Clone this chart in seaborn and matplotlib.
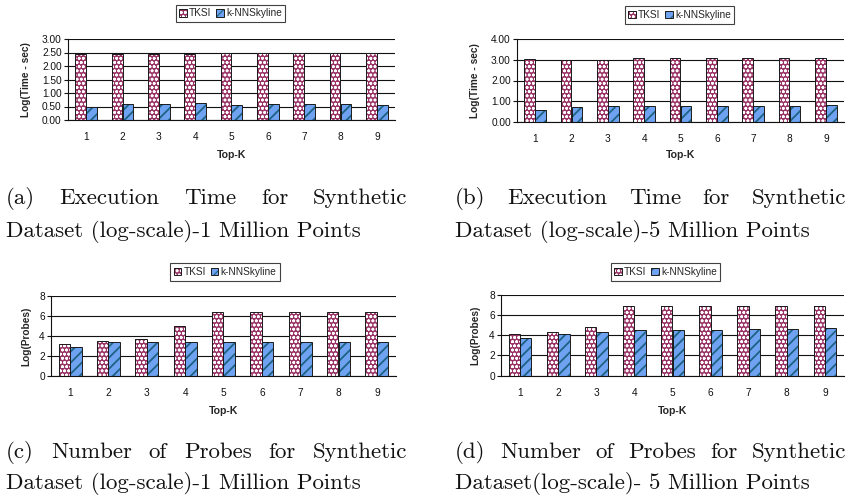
import matplotlib
matplotlib.use("Agg")
import matplotlib.pyplot as plt
import matplotlib.ticker as mticker
from matplotlib.patches import Patch, Rectangle
from matplotlib.legend_handler import HandlerTuple
import pandas as pd
import seaborn as sns

# ---- data -------------------------------------------------------------
top_k = [1, 2, 3, 4, 5, 6, 7, 8, 9]
methods = ["TKSI", "k-NNSkyline"]

time_1m_tksi = [2.44, 2.44, 2.44, 2.44, 2.50, 2.50, 2.50, 2.50, 2.50]
time_1m_knn = [0.49, 0.60, 0.60, 0.64, 0.55, 0.60, 0.60, 0.60, 0.55]

time_5m_tksi = [3.05, 2.99, 2.99, 3.08, 3.08, 3.08, 3.08, 3.08, 3.08]
time_5m_knn = [0.60, 0.70, 0.78, 0.78, 0.75, 0.78, 0.78, 0.78, 0.84]

probes_1m_tksi = [3.25, 3.54, 3.70, 5.00, 6.40, 6.40, 6.40, 6.40, 6.40]
probes_1m_knn = [2.92, 3.40, 3.40, 3.40, 3.40, 3.40, 3.40, 3.40, 3.40]

probes_5m_tksi = [4.13, 4.36, 4.85, 6.93, 6.93, 6.93, 6.93, 6.93, 6.93]
probes_5m_knn = [3.73, 4.16, 4.36, 4.55, 4.55, 4.55, 4.65, 4.65, 4.75]

ylabel_time = "Log(Time - sec)"
ylabel_probes = "Log(Probes)"
xlabel = "Top-K"

caption_a = (["(a)", "Execution", "Time", "for", "Synthetic"],
             "Dataset (log-scale)-1 Million Points")
caption_b = (["(b)", "Execution", "Time", "for", "Synthetic"],
             "Dataset (log-scale)-5 Million Points")
caption_c = (["(c)", "Number", "of", "Probes", "for", "Synthetic"],
             "Dataset (log-scale)-1 Million Points")
caption_d = (["(d)", "Number", "of", "Probes", "for", "Synthetic"],
             "Dataset(log-scale)- 5 Million Points")

# ---- style ------------------------------------------------------------
sns.set_style("white")
plt.rcParams["font.family"] = ["Liberation Sans", "DejaVu Sans"]
plt.rcParams["hatch.linewidth"] = 0.8

TKSI_FILL, TKSI_DOTS = "#993366", "#ffffff"
KNN_FILL, KNN_STRIPES = "#6fa3f2", "#1d6282"
STYLES = {
    "TKSI": dict(fill=TKSI_FILL, hatch_color=TKSI_DOTS, hatch="oooo", hlw=0.8),
    "k-NNSkyline": dict(fill=KNN_FILL, hatch_color=KNN_STRIPES, hatch="///", hlw=1.3),
}

W_PX, H_PX = 861, 496
fig = plt.figure(figsize=(W_PX / 100, H_PX / 100), dpi=100)
fig.patch.set_facecolor("white")


def fig_rect(left, top, right, bottom):
    """Axes rectangle from pixel edges (origin at the top-left)."""
    return [left / W_PX, 1 - bottom / H_PX, (right - left) / W_PX, (bottom - top) / H_PX]


def style_bars(ax):
    for container, name in zip(ax.containers, methods):
        st = STYLES[name]
        for bar in container:
            bar.set_facecolor(st["fill"])
            bar.set_hatch(st["hatch"])
            bar.set_edgecolor(st["hatch_color"])
            bar.set_linewidth(0)
            if hasattr(bar, "set_hatch_linewidth"):
                bar.set_hatch_linewidth(st["hlw"])
            bar.set_zorder(2)
            ax.add_patch(Rectangle((bar.get_x(), bar.get_y()), bar.get_width(),
                                   bar.get_height(), fill=False, edgecolor="#1a1a1a",
                                   linewidth=0.7, zorder=3))


def legend_handles():
    handles = []
    for name in methods:
        st = STYLES[name]
        body = Patch(facecolor=st["fill"], edgecolor=st["hatch_color"],
                     hatch=st["hatch"], linewidth=0)
        frame = Patch(facecolor="none", edgecolor="#1a1a1a", linewidth=0.7)
        handles.append((body, frame))
    return handles


def draw_panel(rect, tksi, knn, ymax, ystep, fmt, ylabel, ylab_x, xlab_y, legend_xy):
    ax = fig.add_axes(fig_rect(*rect))
    df = pd.DataFrame({
        "Top-K": top_k * 2,
        "value": tksi + knn,
        "method": [methods[0]] * len(top_k) + [methods[1]] * len(top_k),
    })
    sns.barplot(data=df, x="Top-K", y="value", hue="method", hue_order=methods,
                palette=[TKSI_FILL, KNN_FILL], width=0.6, gap=0, ax=ax,
                legend=False, errorbar=None, saturation=1)
    style_bars(ax)

    ax.set_xlim(-0.5, len(top_k) - 0.5)
    ax.set_ylim(0, ymax)
    ax.yaxis.set_major_locator(mticker.MultipleLocator(ystep))
    ax.yaxis.set_major_formatter(mticker.FormatStrFormatter(fmt))
    ax.xaxis.set_minor_locator(mticker.FixedLocator([i - 0.5 for i in range(len(top_k) + 1)]))

    ax.tick_params(axis="x", which="major", length=0, pad=9, labelsize=7.3, colors="#111111")
    ax.tick_params(axis="x", which="minor", length=3.5, width=0.8, direction="out", color="#111111")
    ax.tick_params(axis="y", which="major", length=3, width=0.8, direction="out",
                   pad=1.5, labelsize=7.3, colors="#111111", left=True)

    ax.grid(axis="y", color="#111111", linewidth=0.8, zorder=0)
    ax.set_axisbelow(True)
    fig.canvas.draw()
    gl = ax.yaxis.get_gridlines()
    if len(gl):
        gl[-1].set_visible(False)

    for side in ("top", "right"):
        ax.spines[side].set_visible(False)
    for side in ("left", "bottom"):
        ax.spines[side].set_color("#111111")
        ax.spines[side].set_linewidth(0.8)
        ax.spines[side].set_zorder(4)

    ax.set_ylabel(ylabel, fontsize=7.3, fontweight="bold", va="center")
    ax.yaxis.set_label_coords(ylab_x, 0.5)
    ax.set_xlabel(xlabel, fontsize=7.6, fontweight="bold", va="center")
    ax.xaxis.set_label_coords(0.5, xlab_y)

    leg = ax.legend(legend_handles(), methods, handler_map={tuple: HandlerTuple(ndivide=1, pad=0)},
                    loc="center", bbox_to_anchor=(legend_xy[0] / W_PX, 1 - legend_xy[1] / H_PX),
                    bbox_transform=fig.transFigure, ncol=2, fontsize=7.3, frameon=True,
                    fancybox=False, shadow=False, borderpad=0.35, handlelength=0.75,
                    handleheight=0.75, handletextpad=0.2, columnspacing=0.5,
                    borderaxespad=0)
    leg.get_frame().set_edgecolor("#111111")
    leg.get_frame().set_linewidth(0.8)
    return ax


# (left, top, right, bottom) in pixels
draw_panel((68, 39, 395, 120), time_1m_tksi, time_1m_knn, 3.0, 0.5, "%.2f",
           ylabel_time, -0.128, -0.432, (230.5, 13.5))
draw_panel((517, 39, 844, 122), time_5m_tksi, time_5m_knn, 4.0, 1.0, "%.2f",
           ylabel_time, -0.128, -0.398, (679.5, 15))
draw_panel((51, 296, 396, 376), probes_1m_tksi, probes_1m_knn, 8, 2, "%d",
           ylabel_probes, -0.0725, -0.4375, (225, 272))
draw_panel((501, 295, 844, 375.5), probes_5m_tksi, probes_5m_knn, 8, 2, "%d",
           ylabel_probes, -0.0758, -0.44, (665.5, 272))

# ---- captions ---------------------------------------------------------
CAP_FONT = dict(family="cmr10", fontsize=16.5, color="#111111", va="baseline")


def caption(words, second, x0, x1, base1, base2):
    renderer = fig.canvas.get_renderer()
    texts = [fig.text(0, 1 - base1 / H_PX, w, **CAP_FONT) for w in words]
    widths = [t.get_window_extent(renderer).width for t in texts]
    gap = ((x1 - x0) - sum(widths)) / (len(words) - 1)
    x = x0
    for t, w in zip(texts, widths):
        t.set_x(x / W_PX)
        x += w + gap
    fig.text(x0 / W_PX, 1 - base2 / H_PX, second, **CAP_FONT)


fig.canvas.draw()
caption(*caption_a, 6, 407, 204, 237)
caption(*caption_b, 455, 846, 204, 237)
caption(*caption_c, 6, 407, 458, 489)
caption(*caption_d, 455, 846, 458, 489)

fig.savefig("out.png", dpi=100, facecolor="white")
